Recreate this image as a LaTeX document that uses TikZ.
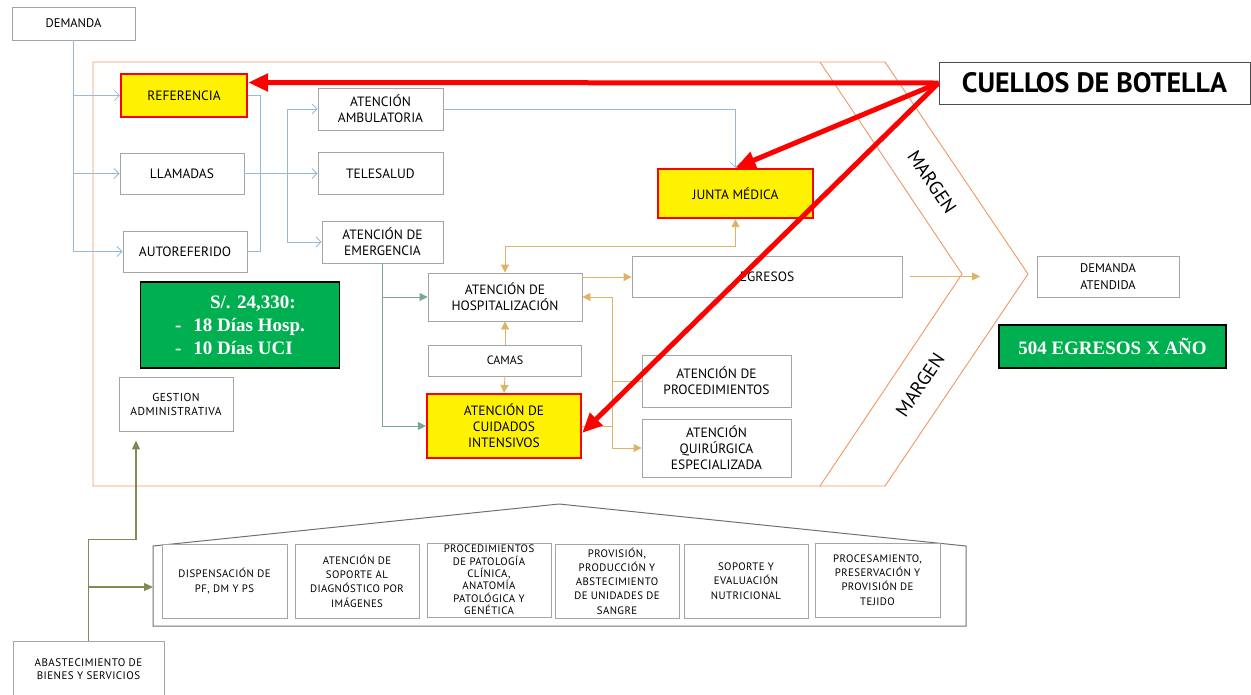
\documentclass[tikz,border=0pt]{standalone}
\usepackage{fontspec}
\setmainfont{PT Sans}
\newfontfamily\serifnum{Liberation Serif}
\usetikzlibrary{arrows.meta}

\definecolor{boxgray}{RGB}{165,165,165}
\definecolor{lineblue}{RGB}{150,185,215}
\definecolor{linegold}{RGB}{220,180,100}
\definecolor{lineteal}{RGB}{120,165,150}
\definecolor{lineolive}{RGB}{125,140,85}
\definecolor{frameorange}{RGB}{240,150,100}
\definecolor{boxgreen}{RGB}{0,176,80}
\definecolor{housegray}{RGB}{120,110,105}

\tikzset{
	box/.style={draw=boxgray, fill=white, line width=0.9pt, align=center, inner sep=1pt,
		text=black, font=\fontsize{13.5}{16}\selectfont},
	hot/.style={box, draw=red, fill=yellow, line width=2.2pt},
	greenbox/.style={draw=black, line width=1.8pt, fill=boxgreen, text=white,
		font=\serifnum\bfseries\fontsize{19}{23}\selectfont},
	smalltxt/.style={font=\fontsize{10.8}{14.3}\selectfont\addfontfeature{LetterSpace=4}},
	blueln/.style={draw=lineblue, line width=0.8pt, -{Straight Barb[length=5pt,width=10pt]}},
	goldln/.style={draw=linegold, line width=0.9pt, -{Triangle[length=8pt,width=8pt]}},
	tealln/.style={draw=lineteal, line width=0.9pt, -{Triangle[length=8pt,width=8pt]}},
	oliveln/.style={draw=lineolive, line width=1.1pt, -{Triangle[length=9pt,width=8pt]}},
	redarr/.style={draw=red, line width=5pt, -{Triangle[length=20pt,width=17pt]}},
	frame/.style={draw=frameorange, line width=0.9pt}
}

\begin{document}
\begin{tikzpicture}[x=1pt,y=-1pt] % one unit = one pixel
	\useasboundingbox (0,0) rectangle (1251,694);

	\draw[frame] (885,62) -- (93,62) -- (93,486) -- (885,486) -- (1028,274) -- cycle;
	\draw[frame] (820,62) -- (962,274) -- (820,486);
	\node[rotate=-56, font=\fontsize{19}{22}\selectfont] (margen1) at (932,182) {MARGEN};
	\node[rotate=56, font=\fontsize{19}{22}\selectfont] (margen2) at (920,385) {MARGEN};

	\node[box, font=\fontsize{12.5}{14}\selectfont, minimum width=123pt, minimum height=33pt] (demanda) at (73.5,23.5) {DEMANDA};
	\node[hot, minimum width=126pt, minimum height=43pt] (ref) at (184,95.5) {REFERENCIA};
	\node[box, minimum width=124pt, minimum height=41pt] (llamadas) at (182,173.5) {LLAMADAS};
	\node[box, minimum width=124pt, minimum height=41pt] (autoref) at (185,251.5) {AUTOREFERIDO};

	\node[box, minimum width=125pt, minimum height=42pt] (ambul) at (380.5,109) {ATENCIÓN\\AMBULATORIA};
	\node[box, minimum width=125pt, minimum height=42pt] (telesalud) at (380.5,173.5) {TELESALUD};
	\node[box, minimum width=121pt, minimum height=42pt] (emerg) at (382.5,242) {ATENCIÓN DE\\EMERGENCIA};

	\node[hot, minimum width=155pt, minimum height=49pt] (junta) at (735.5,193.5) {JUNTA MÉDICA};
	\node[box, minimum width=154pt, minimum height=48pt] (hosp) at (505,297) {ATENCIÓN DE\\HOSPITALIZACIÓN};
	\node[box, font=\fontsize{12}{16}\selectfont, minimum width=153pt, minimum height=31pt] (camas) at (505,360.5) {CAMAS};
	\node[hot, minimum width=154pt, minimum height=64pt] (cuidados) at (504,426) {ATENCIÓN DE\\CUIDADOS\\INTENSIVOS};
	\node[box, minimum width=270pt, minimum height=41pt] (egresos) at (767,276.5) {EGRESOS};
	\node[box, minimum width=149pt, minimum height=52pt] (proced) at (716.5,381) {ATENCIÓN DE\\PROCEDIMIENTOS};
	\node[box, minimum width=149pt, minimum height=58pt] (quirurg) at (716.5,448) {ATENCIÓN\\QUIRÚRGICA\\ESPECIALIZADA};

	\node[box, font=\fontsize{12.5}{16.5}\selectfont, minimum width=142pt, minimum height=41pt] (atendida) at (1108,276.5) {DEMANDA\\ATENDIDA};
	\node[greenbox, minimum width=227pt, minimum height=43pt] (egresosyr) at (1112.5,346.5) {504 EGRESOS X AÑO};
	\node[greenbox, align=left, minimum width=199pt, minimum height=86pt] (costo) at (240,325)
		{\hspace*{35pt}S/. 24,330:\\-\hspace{12pt}18 Días Hosp.\\-\hspace{12pt}10 Días UCI};
	\node[box, smalltxt, font=\fontsize{11.5}{14}\selectfont\addfontfeature{LetterSpace=4}, minimum width=114pt, minimum height=54pt] (gestion) at (176,404) {GESTION\\ADMINISTRATIVA};
	\node[box, draw=black!70, line width=1pt, font=\bfseries\fontsize{28}{32}\selectfont, minimum width=311pt, minimum height=42pt] (cuellos) at (1094.5,83) {CUELLOS DE BOTELLA};

	\draw[draw=housegray, line width=1pt] (153,546) -- (559,504) -- (966,546) -- (966,626) -- (153,626) -- cycle;
	\coordinate (soporte) at (153,587);
	\node[box, smalltxt, minimum width=125pt, minimum height=74pt] (disp) at (224.5,581) {DISPENSACIÓN DE\\PF, DM Y PS};
	\node[box, smalltxt, minimum width=124pt, minimum height=74pt] (imag) at (357,581) {ATENCIÓN DE\\SOPORTE AL\\DIAGNÓSTICO POR\\IMÁGENES};
	\node[box, smalltxt, font=\fontsize{10.8}{12.4}\selectfont\addfontfeature{LetterSpace=4}, minimum width=124pt, minimum height=74pt] (patol) at (489,580)
		{PROCEDIMIENTOS\\DE PATOLOGÍA\\CLÍNICA,\\ANATOMÍA\\PATOLÓGICA Y\\GENÉTICA};
	\node[box, smalltxt, minimum width=124pt, minimum height=74pt] (sangre) at (617,581) {PROVISIÓN,\\PRODUCCIÓN Y\\ABSTECIMIENTO\\DE UNIDADES DE\\SANGRE};
	\node[box, smalltxt, minimum width=124pt, minimum height=74pt] (nutri) at (746,581) {SOPORTE Y\\EVALUACIÓN\\NUTRICIONAL};
	\node[box, smalltxt, minimum width=125pt, minimum height=74pt] (tejido) at (877.5,580) {PROCESAMIENTO,\\PRESERVACIÓN Y\\PROVISIÓN DE\\TEJIDO};
	\node[box, smalltxt, font=\fontsize{11}{13.5}\selectfont\addfontfeature{LetterSpace=4}, minimum width=151pt, minimum height=56pt] (abast) at (88.5,669) {ABASTECIMIENTO DE\\BIENES Y SERVICIOS};

	\draw[blueln] (demanda.south) |- (ref.west);
	\draw[blueln] (demanda.south) |- (llamadas.west);
	\draw[blueln] (demanda.south) |- (autoref.west);
	\draw[blueln, -] (ref.east) -- ++(12,0) |- (autoref.east);
	\coordinate (split) at (287,173.5);
	\draw[blueln] (llamadas.east) -- (telesalud.west);
	\draw[blueln] (split) |- (ambul.west);
	\draw[blueln] (split) |- (emerg.west);
	\draw[blueln] (ambul.east) -| (junta.north);

	\draw[tealln] (emerg.south) |- (hosp.west);
	\draw[tealln] (emerg.south) |- (cuidados.west);

	\draw[goldln, {Triangle[length=8pt,width=8pt]}-{Triangle[length=8pt,width=8pt]}] (junta.south) -- ++(0,27) -| (hosp.north);
	\draw[goldln] (camas.north) -- (hosp.south);
	\draw[goldln] (camas.south) -- (cuidados.north);
	\draw[goldln] ([yshift=20pt]hosp.east) -- ([yshift=20pt]hosp.east -| egresos.west);
	\coordinate (bus) at (612,297);
	\draw[goldln] (bus) -- (hosp.east);
	\draw[goldln] (bus) |- (quirurg.west);
	\draw[goldln, -] (proced.west) -- (proced.west -| bus);
	\draw[goldln, -] (cuidados.east) -- (cuidados.east -| bus);
	\coordinate (punta) at (980,276.5);
	\draw[goldln] ([xshift=8pt]egresos.east) -- (punta);

	\draw[oliveln] (abast.north) -- ++(0,-101) -| ([xshift=-40pt,yshift=-9pt]gestion.south);
	\draw[oliveln] (abast.north |- soporte) -- (soporte);

	\draw[redarr] (cuellos.west) -- ([yshift=13pt]ref.east);
	\draw[redarr] (cuellos.west) -- (junta.north);
	\draw[redarr] (cuellos.west) -- ([yshift=-7pt]cuidados.east);
\end{tikzpicture}
\end{document}
